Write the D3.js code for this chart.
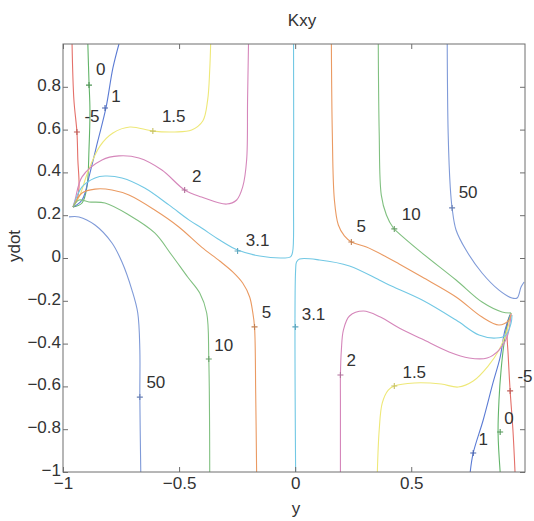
<!DOCTYPE html>
<html>
<head>
<meta charset="utf-8">
<script src="https://cdn.jsdelivr.net/npm/d3@7"></script>
<style>
  body { margin: 0; background: #fff; }
  svg { display: block; }
  text { font-family: "Liberation Sans", Arial, Helvetica, sans-serif; }
</style>
</head>
<body>
<div id="chart"></div>
<script>
// contour levels of Kxy
const levels = [-5, 0, 1, 1.5, 2, 3.1, 5, 10, 50];
const xTicks = [-1, -0.5, 0, 0.5];
const yTicks = [-1, -0.8, -0.6, -0.4, -0.2, 0, 0.2, 0.4, 0.6, 0.8];

// contour pieces, [y, ydot] pairs
const minus5Left = [[-0.961, 1.0], [-0.953, 0.738], [-0.940, 0.589], [-0.936, 0.458], [-0.931, 0.332], [-0.940, 0.271], [-0.957, 0.238]];
const minus5Right = [[0.947, -1], [0.938, -0.804], [0.926, -0.621], [0.917, -0.444], [0.913, -0.322], [0.930, -0.257]];

const zeroLeft = [[-0.893, 1.0], [-0.888, 0.822], [-0.884, 0.696], [-0.888, 0.509], [-0.897, 0.332], [-0.918, 0.257], [-0.957, 0.238]];
const zeroRight = [[0.883, -1], [0.874, -0.818], [0.878, -0.664], [0.887, -0.523], [0.900, -0.397], [0.917, -0.290], [0.930, -0.257]];

const oneLeft = [[-0.759, 1.0], [-0.785, 0.888], [-0.815, 0.701], [-0.850, 0.547], [-0.884, 0.397], [-0.918, 0.271], [-0.957, 0.238]];
const oneRight = [[0.754, -1], [0.767, -0.911], [0.810, -0.757], [0.852, -0.584], [0.883, -0.463], [0.904, -0.336], [0.930, -0.257]];

const onePt5Left = [[-0.957, 0.238], [-0.927, 0.294], [-0.893, 0.402], [-0.841, 0.523], [-0.785, 0.584], [-0.712, 0.612],
  [-0.613, 0.593], [-0.519, 0.589], [-0.446, 0.598], [-0.398, 0.640], [-0.377, 0.738], [-0.368, 0.879], [-0.364, 1.0]];
const onePt5Right = [[0.354, -1], [0.362, -0.804], [0.375, -0.678], [0.401, -0.617], [0.427, -0.598], [0.513, -0.584],
  [0.629, -0.589], [0.702, -0.603], [0.767, -0.575], [0.831, -0.505], [0.878, -0.430], [0.913, -0.336], [0.930, -0.257]];

const twoLeft = [[-0.957, 0.238], [-0.948, 0.271], [-0.918, 0.379], [-0.832, 0.458], [-0.759, 0.477], [-0.673, 0.467],
  [-0.574, 0.411], [-0.476, 0.318], [-0.403, 0.285], [-0.295, 0.252], [-0.252, 0.271], [-0.226, 0.332], [-0.209, 0.458],
  [-0.205, 0.738], [-0.201, 1.0]];
const twoRight = [[0.195, -1], [0.195, -0.664], [0.195, -0.547], [0.199, -0.430], [0.208, -0.336], [0.234, -0.271],
  [0.294, -0.248], [0.367, -0.276], [0.448, -0.327], [0.547, -0.379], [0.663, -0.439], [0.749, -0.467], [0.827, -0.467],
  [0.878, -0.430], [0.913, -0.369], [0.930, -0.262]];

// the 3.1 level runs through the saddle at the origin
const threeLeft = [[-0.957, 0.238], [-0.918, 0.332], [-0.862, 0.374], [-0.819, 0.383], [-0.746, 0.374], [-0.648, 0.327],
  [-0.544, 0.248], [-0.458, 0.178], [-0.403, 0.140], [-0.325, 0.084], [-0.248, 0.037], [-0.153, 0.009], [-0.050, 0.0],
  [-0.020, 0.005], [-0.011, 0.028], [-0.007, 0.271], [-0.007, 1.0]];
const threeRight = [[0.002, -1], [0.002, -0.056], [0.006, -0.019], [0.019, -0.005], [0.105, -0.009], [0.234, -0.037],
  [0.362, -0.103], [0.405, -0.126], [0.547, -0.196], [0.693, -0.290], [0.792, -0.360], [0.865, -0.374], [0.908, -0.360],
  [0.930, -0.304], [0.934, -0.266]];

const fiveLeft = [[-0.957, 0.238], [-0.918, 0.304], [-0.862, 0.322], [-0.789, 0.318], [-0.716, 0.294], [-0.605, 0.224],
  [-0.501, 0.145], [-0.403, 0.051], [-0.325, -0.014], [-0.269, -0.065], [-0.226, -0.117], [-0.196, -0.182],
  [-0.183, -0.252], [-0.175, -0.322], [-0.170, -0.631], [-0.166, -1]];
const fiveRight = [[0.156, 1], [0.160, 0.584], [0.169, 0.271], [0.186, 0.154], [0.212, 0.103], [0.242, 0.075],
  [0.307, 0.051], [0.393, 0.005], [0.448, -0.028], [0.547, -0.089], [0.693, -0.182], [0.805, -0.276], [0.878, -0.313],
  [0.921, -0.290], [0.930, -0.266]];

const tenLeft = [[-0.957, 0.238], [-0.931, 0.271], [-0.888, 0.262], [-0.819, 0.257], [-0.716, 0.201], [-0.605, 0.117],
  [-0.532, 0.014], [-0.463, -0.089], [-0.411, -0.164], [-0.381, -0.257], [-0.372, -0.472], [-0.368, -1]];
const tenRight = [[0.358, 1], [0.362, 0.584], [0.371, 0.294], [0.393, 0.201], [0.423, 0.140], [0.436, 0.126],
  [0.547, 0.023], [0.693, -0.103], [0.805, -0.206], [0.891, -0.252], [0.930, -0.257]];

const fiftyLeft = [[-0.974, 0.192], [-0.931, 0.192], [-0.862, 0.154], [-0.789, 0.070], [-0.746, -0.019], [-0.703, -0.150],
  [-0.678, -0.257], [-0.669, -0.430], [-0.669, -0.650], [-0.665, -1]];
const fiftyRight = [[0.655, 1], [0.659, 0.584], [0.668, 0.332], [0.676, 0.234], [0.693, 0.131], [0.736, 0.037],
  [0.805, -0.070], [0.878, -0.150], [0.934, -0.187], [0.956, -0.187], [0.973, -0.136], [0.986, -0.112]];

const pieces = [
  {level: -5, pts: minus5Left}, {level: -5, pts: minus5Right},
  {level: 0, pts: zeroLeft}, {level: 0, pts: zeroRight},
  {level: 1, pts: oneLeft}, {level: 1, pts: oneRight},
  {level: 1.5, pts: onePt5Left}, {level: 1.5, pts: onePt5Right},
  {level: 2, pts: twoLeft}, {level: 2, pts: twoRight},
  {level: 3.1, pts: threeLeft}, {level: 3.1, pts: threeRight},
  {level: 5, pts: fiveLeft}, {level: 5, pts: fiveRight},
  {level: 10, pts: tenLeft}, {level: 10, pts: tenRight},
  {level: 50, pts: fiftyLeft}, {level: 50, pts: fiftyRight}
];

// clabel spots: [level, marker y, marker ydot, text y, text ydot]
const labelSpots = [
  [-5, -0.940, 0.589, -0.875, 0.659],
  [0, -0.888, 0.808, -0.837, 0.879],
  [1, -0.819, 0.701, -0.772, 0.757],
  [1.5, -0.613, 0.593, -0.523, 0.659],
  [2, -0.476, 0.318, -0.424, 0.383],
  [3.1, -0.248, 0.033, -0.162, 0.084],
  [5, -0.175, -0.322, -0.123, -0.257],
  [10, -0.372, -0.472, -0.308, -0.407],
  [50, -0.669, -0.650, -0.600, -0.584],
  [3.1, 0.001, -0.322, 0.079, -0.262],
  [2, 0.195, -0.547, 0.242, -0.481],
  [1.5, 0.427, -0.598, 0.513, -0.533],
  [-5, 0.926, -0.621, 0.990, -0.556],
  [0, 0.883, -0.813, 0.921, -0.748],
  [1, 0.767, -0.911, 0.810, -0.850],
  [5, 0.242, 0.075, 0.285, 0.145],
  [10, 0.427, 0.136, 0.500, 0.201],
  [50, 0.676, 0.234, 0.745, 0.304]
];

const W = 534, H = 521;
const margin = {left: 63, right: 9, top: 44, bottom: 49};

const svg = d3.select("#chart").append("svg")
  .attr("width", W).attr("height", H);

const x = d3.scaleLinear().domain([-1, 0.99]).range([margin.left, W - margin.right]);
const y = d3.scaleLinear().domain([-1, 1]).range([H - margin.bottom, margin.top]);

const color = d3.scaleOrdinal().domain(levels)
  .range(["#e4706a", "#62b469", "#5b7bd4", "#eee878", "#d586ba", "#72c8e4", "#ea9a62", "#80c080", "#7f9ad8"]);

svg.append("clipPath").attr("id", "plotClip")
  .append("rect")
  .attr("x", x(-1)).attr("y", y(1))
  .attr("width", x(0.99) - x(-1)).attr("height", y(-1) - y(1));

// contour lines
const line = d3.line()
  .x(d => x(d[0]))
  .y(d => y(d[1]))
  .curve(d3.curveCatmullRom.alpha(0.5));

svg.append("g").attr("clip-path", "url(#plotClip)")
  .selectAll("path")
  .data(pieces)
  .join("path")
  .attr("d", d => line(d.pts))
  .attr("fill", "none")
  .attr("stroke", d => color(d.level))
  .attr("stroke-width", 1.1);

// axes box with inward ticks on all sides
const axisColor = "#6e6e6e";
svg.append("g")
  .attr("transform", "translate(0," + y(-1) + ")")
  .call(d3.axisBottom(x).tickValues(xTicks).tickSize(-5).tickPadding(5).tickFormat(d3.format("")))
  .call(g => g.select(".domain").remove());
svg.append("g")
  .attr("transform", "translate(0," + y(1) + ")")
  .call(d3.axisTop(x).tickValues(xTicks).tickSize(-5).tickFormat(""))
  .call(g => g.select(".domain").remove());
svg.append("g")
  .attr("class", "yAxis")
  .attr("transform", "translate(" + x(-1) + ",0)")
  .call(d3.axisLeft(y).tickValues(yTicks).tickSize(-5).tickPadding(2).tickFormat(d3.format("")))
  .call(g => g.select(".domain").remove());
svg.append("g")
  .attr("transform", "translate(" + x(0.99) + ",0)")
  .call(d3.axisRight(y).tickValues(yTicks).tickSize(-5).tickFormat(""))
  .call(g => g.select(".domain").remove());

svg.selectAll(".tick line").attr("stroke", axisColor);
svg.selectAll(".tick text")
  .attr("font-size", 17)
  .attr("fill", "#333");
// y labels sit a touch above their ticks, as in the original
svg.selectAll(".yAxis .tick text").attr("dy", "0.2em");

svg.append("rect")
  .attr("x", x(-1)).attr("y", y(1))
  .attr("width", x(0.99) - x(-1)).attr("height", y(-1) - y(1))
  .attr("fill", "none")
  .attr("stroke", axisColor)
  .attr("stroke-width", 1);

// contour labels
const marks = svg.append("g");
marks.selectAll("path")
  .data(labelSpots)
  .join("path")
  .attr("transform", d => "translate(" + x(d[1]) + "," + y(d[2]) + ")")
  .attr("d", "M-3,0H3M0,-3V3")
  .attr("stroke", d => d3.color(color(d[0])).darker(0.5))
  .attr("stroke-width", 1.1);

marks.selectAll("text")
  .data(labelSpots)
  .join("text")
  .attr("x", d => x(d[3]))
  .attr("y", d => y(d[4]))
  .attr("text-anchor", "middle")
  .attr("dominant-baseline", "central")
  .attr("font-size", 17)
  .attr("fill", "#333")
  .text(d => d[0]);

// title and axis labels
svg.append("text")
  .attr("x", 302).attr("y", 20)
  .attr("text-anchor", "middle")
  .attr("dominant-baseline", "central")
  .attr("font-size", 17)
  .attr("fill", "#333")
  .text("Kxy");

svg.append("text")
  .attr("x", (x(-1) + x(0.99)) / 2 + 2).attr("y", 508)
  .attr("text-anchor", "middle")
  .attr("dominant-baseline", "central")
  .attr("font-size", 17)
  .attr("fill", "#333")
  .text("y");

svg.append("text")
  .attr("transform", "translate(14,246) rotate(-90)")
  .attr("text-anchor", "middle")
  .attr("dominant-baseline", "central")
  .attr("font-size", 17)
  .attr("fill", "#333")
  .text("ydot");
</script>
</body>
</html>
